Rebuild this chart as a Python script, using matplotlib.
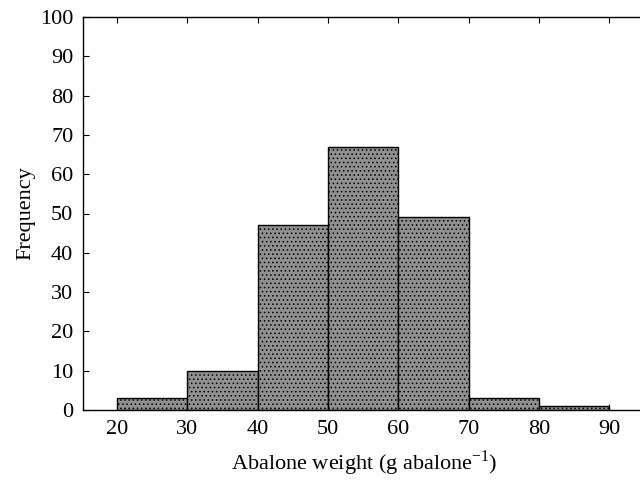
import matplotlib
matplotlib.use("Agg")
import matplotlib.pyplot as plt

# histogram bins (g abalone^-1) and counts
bin_left  = [20, 30, 40, 50, 60, 70, 80]
counts    = [3, 10, 47, 67, 49, 3, 1]
x_ticks   = [20, 30, 40, 50, 60, 70, 80, 90]
y_ticks   = [0, 10, 20, 30, 40, 50, 60, 70, 80, 90, 100]

plt.rcParams['font.family'] = ['Liberation Serif', 'DejaVu Serif']
plt.rcParams['hatch.color'] = '#6a6a6a'
plt.rcParams['hatch.linewidth'] = 0.6

fig = plt.figure(figsize=(6.4, 4.84), dpi=100)
ax = fig.add_axes([83/640, 74/484, 563/640, 393/484])

ax.bar(bin_left, counts, width=10, align='edge',
       color='#909090', edgecolor='black', linewidth=1.0,
       hatch='....', zorder=2)

ax.set_xlim(15.2, 95.2)
ax.set_ylim(0, 100)
ax.set_xticks(x_ticks)
ax.set_yticks(y_ticks)
ax.tick_params(direction='in', top=True, right=True, labelsize=16, length=4, pad=7)
for s in ax.spines.values():
    s.set_linewidth(1.0)

ax.set_xlabel("Abalone weight (g abalone$^{\\mathregular{-1}}$)", fontsize=16, labelpad=7)
ax.set_ylabel("Frequency", fontsize=16, labelpad=3)

fig.savefig("out.png", dpi=100)
